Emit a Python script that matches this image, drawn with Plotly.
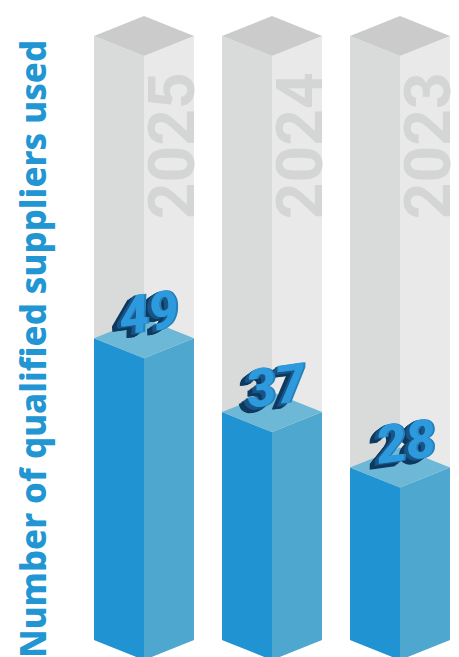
import plotly.graph_objects as go

years = ["2025", "2024", "2023"]
values = [49, 37, 28]
full_value = 98.05
title = "Number of qualified suppliers used"

W, H = 459, 657
ZERO_PX = 640
PX_PER_UNIT = 6.16
PX_PER_CAT = 128
half = 50 / PX_PER_CAT
depth = 20 / PX_PER_UNIT

GREY_L, GREY_R, GREY_T = "#d9dbdb", "#e9e9ea", "#cbcbcb"
BLUE_L, BLUE_R, BLUE_T = "#2093d3", "#4ea7ce", "#6db8d6"


def poly(fig, xs, ys, color):
    fig.add_trace(go.Scatter(x=xs, y=ys, mode="lines", fill="toself", fillcolor=color,
                             line=dict(width=0, color=color), hoverinfo="skip", showlegend=False))


def prism(fig, c, v, left, right, top):
    poly(fig, [c - half, c, c, c - half, c - half], [0, -depth, v - depth, v, 0], left)
    poly(fig, [c + half, c, c, c + half, c + half], [0, -depth, v - depth, v, 0], right)
    poly(fig, [c - half, c, c + half, c, c - half], [v, v - depth, v, v + depth, v], top)


fig = go.Figure()
annotations = []
for i, (yr, v) in enumerate(zip(years, values)):
    prism(fig, i, full_value, GREY_L, GREY_R, GREY_T)
    prism(fig, i, v, BLUE_L, BLUE_R, BLUE_T)
    annotations.append(dict(x=i + 0.225, y=80.3, text=yr, textangle=-90, showarrow=False,
                            xref="x", yref="y",
                            font=dict(family="Roboto", size=64, color="#d4d5d5", weight=700)))

for i, v in enumerate(values):
    base = dict(x=i + 0.025, y=v + 4.0, text=str(v), showarrow=False, xref="x", yref="y", textangle=-8)
    fnt = dict(family="Roboto", size=53, weight=800, style="italic")
    for k in range(9, -1, -1):
        annotations.append(dict(base, xshift=-k * 0.7 - 1, yshift=-k * 0.55,
                                font=dict(fnt, color="#0f3a5f" if k > 2 else "#185588")))
    annotations.append(dict(base, xshift=3.5, yshift=1, font=dict(fnt, color="#2580bb")))
    annotations.append(dict(base, xshift=1.5, yshift=1, font=dict(fnt, color="#2e9ade")))

annotations.append(dict(xref="paper", yref="paper", x=32 / W, y=0, yanchor="bottom", xanchor="center",
                        text=title, textangle=-90, showarrow=False, yshift=-3,
                        font=dict(family="Noto Sans", size=34.8, color="#2196d3", weight=800)))

fig.update_layout(
    width=W, height=H, margin=dict(l=0, r=0, t=0, b=0), autosize=False,
    paper_bgcolor="white", plot_bgcolor="white", annotations=annotations, showlegend=False,
    xaxis=dict(range=[-144 / PX_PER_CAT, (W - 144) / PX_PER_CAT], visible=False, fixedrange=True),
    yaxis=dict(range=[-(H - ZERO_PX) / PX_PER_UNIT, ZERO_PX / PX_PER_UNIT], visible=False, fixedrange=True),
)
fig.write_html("out.html", config=dict(displayModeBar=False),
               post_script="document.body.style.margin='0';document.body.style.overflow='hidden';")
